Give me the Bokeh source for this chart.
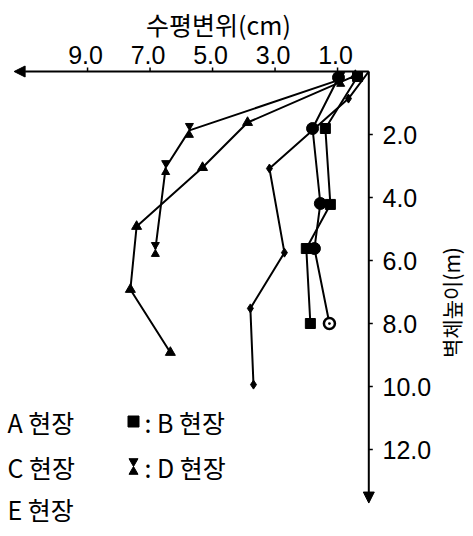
import math
from bokeh.plotting import figure
from bokeh.models import Range1d, Arrow, NormalHead
from bokeh.core.properties import value
from bokeh.embed import file_html
from bokeh.resources import INLINE

# ---------------- data ----------------
x_title = "수평변위(cm)"
y_title = "벽체높이(m)"
x_tick_values = [9.0, 7.0, 5.0, 3.0, 1.0]
x_tick_labels = ["9.0", "7.0", "5.0", "3.0", "1.0"]
y_tick_values = [2.0, 4.0, 6.0, 8.0, 10.0, 12.0]
y_tick_labels = ["2.0", "4.0", "6.0", "8.0", "10.0", "12.0"]

# A site (circle)
a_disp = [0.97, 1.80, 1.55, 1.74, 1.26]
a_depth = [0.19, 1.81, 4.19, 5.62, 8.0]
# B site (square)
b_disp = [0.36, 1.39, 1.23, 2.00, 1.87]
b_depth = [0.16, 1.81, 4.22, 5.62, 8.0]
# C site (triangle)
c_disp = [0.43, 3.88, 5.32, 7.43, 7.63, 6.35]
c_depth = [0.13, 1.62, 3.05, 4.92, 6.92, 8.92]
# D site (hourglass)
d_disp = [0.90, 5.74, 6.50, 6.83]
d_depth = [0.25, 1.87, 3.05, 5.65]
# E site (diamond)
e_disp = [0.0, 0.65, 3.18, 2.70, 3.79, 3.69]
e_depth = [0.0, 0.86, 3.08, 5.75, 7.52, 9.94]

x_axis_max = 11.35
y_axis_max = 13.7

legend_left = ["A 현장", "C 현장", "E 현장"]
legend_right = [": B 현장", ": D 현장"]

# ---------------- layout helpers ----------------
W, H = 465, 528
X0_PX = 368.3      # pixel of displacement 0
PX_PER_CM = 31.25
Y0_PX = 71.0       # pixel of depth 0
PX_PER_M = 31.5


def dx(px):
    return (X0_PX - px) / PX_PER_CM


def dy(py):
    return (py - Y0_PX) / PX_PER_M


p = figure(width=W, height=H,
           x_range=Range1d(dx(0), dx(W)), y_range=Range1d(dy(H), dy(0)),
           output_backend="svg", toolbar_location=None, min_border=0,
           x_axis_location=None, y_axis_location=None)
p.grid.visible = False
p.outline_line_color = None
p.background_fill_color = "white"

BLACK = "black"
NUM_FONT = value("Liberation Sans")
KR_FONT = value("Noto Sans CJK KR")

# axes with arrows
p.add_layout(Arrow(end=NormalHead(size=11, fill_color=BLACK, line_color=BLACK),
                   x_start=0, y_start=0, x_end=x_axis_max, y_end=0,
                   line_width=2, line_color=BLACK))
p.add_layout(Arrow(end=NormalHead(size=11, fill_color=BLACK, line_color=BLACK),
                   x_start=0, y_start=0, x_end=0, y_end=y_axis_max,
                   line_width=2, line_color=BLACK))

# tick marks
tick_len_x = 4 / PX_PER_M
tick_len_y = 4 / PX_PER_CM
p.segment(x0=x_tick_values, y0=[0] * len(x_tick_values),
          x1=x_tick_values, y1=[-tick_len_x] * len(x_tick_values),
          line_color=BLACK, line_width=1.5)
p.segment(x0=[0] * len(y_tick_values), y0=y_tick_values,
          x1=[-tick_len_y] * len(y_tick_values), y1=y_tick_values,
          line_color=BLACK, line_width=1.5)

# tick labels
p.text(x=x_tick_values, y=[dy(54)] * len(x_tick_values), text=x_tick_labels,
       text_font=NUM_FONT, text_font_size="25px", text_align="center",
       text_baseline="middle", text_color=BLACK, x_offset=-2)
p.text(x=[dx(382)] * len(y_tick_values), y=y_tick_values, text=y_tick_labels,
       text_font=NUM_FONT, text_font_size="25px", text_align="left",
       text_baseline="middle", text_color=BLACK)

# axis titles
p.text(x=[dx(218)], y=[dy(23)], text=[x_title], text_font=KR_FONT,
       text_font_size="25px", text_align="center", text_baseline="middle",
       text_color=BLACK)
p.text(x=[dx(450)], y=[dy(302)], text=[y_title], text_font=KR_FONT,
       text_font_size="21px", text_align="center", text_baseline="middle",
       text_color=BLACK, angle=math.pi / 2)

# series
LW = 2
for xs, ds in [(a_disp, a_depth), (b_disp, b_depth), (c_disp, c_depth),
               (d_disp, d_depth), (e_disp, e_depth)]:
    p.line(xs, ds, line_color=BLACK, line_width=LW)

p.scatter(a_disp[:-1], a_depth[:-1], marker="circle", size=12,
          fill_color=BLACK, line_color=BLACK)
p.scatter(a_disp[-1:], a_depth[-1:], marker="circle_dot", size=11,
          fill_color="white", line_color=BLACK, line_width=2.5)
p.scatter(b_disp, b_depth, marker="square", size=10, fill_color=BLACK,
          line_color=BLACK)
p.scatter(c_disp, c_depth, marker="triangle", size=10, fill_color=BLACK,
          line_color=BLACK)
p.scatter(e_disp[1:], e_depth[1:], marker="diamond", size=9,
          fill_color=BLACK, line_color=BLACK)


def hourglass(xs, ds, size):
    h = (size / 2) * math.sqrt(3)
    off = (2 * h / 3) / PX_PER_M
    p.scatter(xs, [d + off for d in ds], marker="triangle", size=size,
              fill_color=BLACK, line_color=BLACK)
    p.scatter(xs, [d - off for d in ds], marker="inverted_triangle",
              size=size, fill_color=BLACK, line_color=BLACK)


hourglass(d_disp, d_depth, 8)

# legend
row_y = [dy(421), dy(466), dy(508)]
p.text(x=[dx(7)] * 3, y=row_y, text=legend_left, text_font=KR_FONT,
       text_font_size="25px", text_align="left", text_baseline="middle",
       text_color=BLACK)
p.text(x=[dx(144)] * 2, y=row_y[:2], text=legend_right, text_font=KR_FONT,
       text_font_size="25px", text_align="left", text_baseline="middle",
       text_color=BLACK)
p.scatter([dx(133)], [row_y[0]], marker="square", size=11, fill_color=BLACK,
          line_color=BLACK)
hourglass([dx(133)], [row_y[1]], 9)

open("out.html", "w").write(file_html(p, INLINE))
